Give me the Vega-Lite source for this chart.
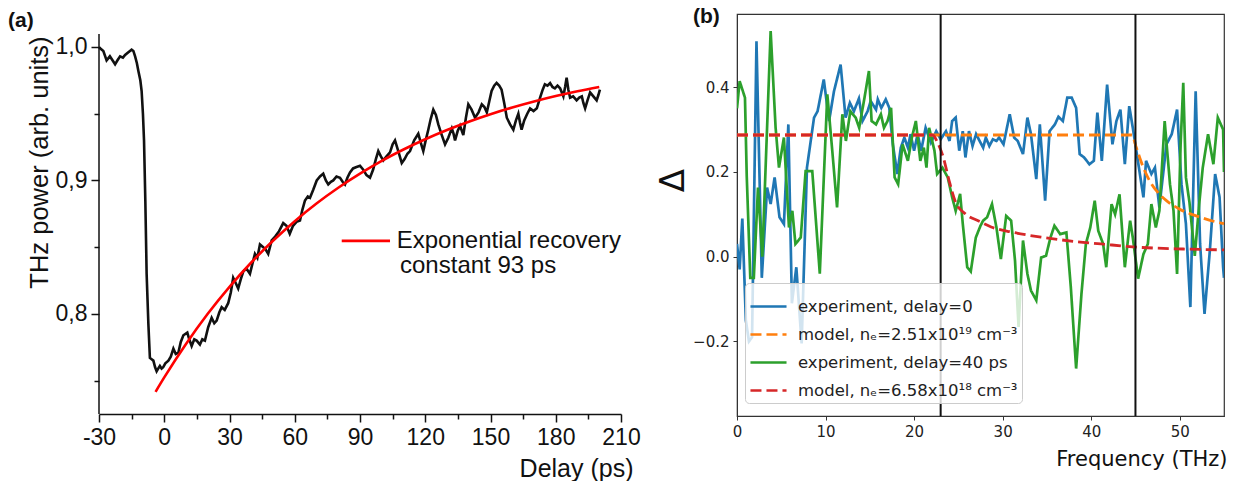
{
  "$schema": "https://vega.github.io/schema/vega-lite/v6.json",
  "padding": {"left": 8, "top": 5, "right": 0, "bottom": 0},
  "spacing": 14,
  "background": "white",
  "config": {
    "font": "Liberation Sans",
    "legend": {"labelFont": "DejaVu Sans", "labelFontSize": 16.5, "labelColor": "#222", "labelLimit": 400, "symbolType": "stroke", "symbolStrokeWidth": 2.6, "symbolSize": 1300, "fillColor": "rgba(255,255,255,0.8)", "strokeColor": "#cccccc", "cornerRadius": 4, "padding": 4, "rowPadding": -3, "labelOffset": 10}
  },
  "datasets": {
    "a_meas": [
      {"t":-30,"v":1.0},{"t":-29.5,"v":0.999},{"t":-28,"v":0.997},{"t":-26.5,"v":0.99},{"t":-25,"v":0.993},{"t":-23.8,"v":0.99},{"t":-22.6,"v":0.987},{"t":-21.5,"v":0.99},{"t":-20.3,"v":0.993},{"t":-19,"v":0.992},{"t":-18,"v":0.994},{"t":-16.5,"v":0.996},{"t":-15,"v":0.998},{"t":-14.2,"v":0.997},{"t":-13.4,"v":0.993},{"t":-12.6,"v":0.988},{"t":-11.9,"v":0.982},{"t":-11,"v":0.975},{"t":-10.4,"v":0.967},{"t":-9.8,"v":0.95},{"t":-9.3,"v":0.93},{"t":-8.7,"v":0.885},{"t":-8.1,"v":0.83},{"t":-7.3,"v":0.7925},{"t":-6.6,"v":0.767},{"t":-5.8,"v":0.766},{"t":-5,"v":0.765},{"t":-4.2,"v":0.76},{"t":-3.5,"v":0.757},{"t":-2.8,"v":0.759},{"t":-2,"v":0.761},{"t":-1.2,"v":0.759},{"t":-0.5,"v":0.76},{"t":0.5,"v":0.763},{"t":1.9,"v":0.765},{"t":3,"v":0.768},{"t":4.2,"v":0.774},{"t":5.3,"v":0.77},{"t":6.5,"v":0.771},{"t":7.6,"v":0.779},{"t":8.8,"v":0.784},{"t":10.6,"v":0.786},{"t":11.5,"v":0.781},{"t":12.6,"v":0.776},{"t":13.8,"v":0.781},{"t":14.9,"v":0.78},{"t":16.4,"v":0.777},{"t":17.5,"v":0.781},{"t":18.7,"v":0.78},{"t":20.2,"v":0.79},{"t":21.8,"v":0.797},{"t":23,"v":0.793},{"t":24.1,"v":0.795},{"t":25.3,"v":0.801},{"t":26.4,"v":0.805},{"t":27.8,"v":0.803},{"t":29.4,"v":0.808},{"t":30.6,"v":0.816},{"t":31.7,"v":0.827},{"t":32.9,"v":0.823},{"t":34,"v":0.819},{"t":35.2,"v":0.826},{"t":36.4,"v":0.832},{"t":37.8,"v":0.834},{"t":39.4,"v":0.83},{"t":40.6,"v":0.838},{"t":41.7,"v":0.845},{"t":42.8,"v":0.842},{"t":44,"v":0.852},{"t":45.5,"v":0.85},{"t":46.7,"v":0.848},{"t":47.8,"v":0.845},{"t":49.4,"v":0.855},{"t":51,"v":0.858},{"t":52.8,"v":0.862},{"t":54.7,"v":0.868},{"t":56.2,"v":0.866},{"t":57.7,"v":0.86},{"t":59.2,"v":0.866},{"t":60.8,"v":0.869},{"t":62.4,"v":0.87},{"t":63.5,"v":0.878},{"t":64.7,"v":0.885},{"t":66,"v":0.888},{"t":67,"v":0.887},{"t":68.5,"v":0.893},{"t":70.1,"v":0.9},{"t":71.6,"v":0.903},{"t":73.1,"v":0.905},{"t":74.3,"v":0.9},{"t":75.4,"v":0.897},{"t":76.6,"v":0.899},{"t":77.7,"v":0.9},{"t":79.2,"v":0.903},{"t":80.8,"v":0.902},{"t":82,"v":0.899},{"t":83.1,"v":0.897},{"t":84.2,"v":0.902},{"t":85.4,"v":0.906},{"t":86.8,"v":0.909},{"t":88.4,"v":0.91},{"t":90,"v":0.911},{"t":91.5,"v":0.908},{"t":93,"v":0.904},{"t":94.6,"v":0.902},{"t":96,"v":0.908},{"t":97.3,"v":0.916},{"t":98.4,"v":0.922},{"t":99.6,"v":0.918},{"t":100.7,"v":0.915},{"t":102.2,"v":0.918},{"t":103.8,"v":0.921},{"t":105,"v":0.927},{"t":106.1,"v":0.93},{"t":107.6,"v":0.922},{"t":109.2,"v":0.913},{"t":110.5,"v":0.916},{"t":111.8,"v":0.92},{"t":113,"v":0.922},{"t":114.9,"v":0.93},{"t":116.8,"v":0.935},{"t":118,"v":0.928},{"t":119.1,"v":0.922},{"t":120.2,"v":0.93},{"t":121.4,"v":0.938},{"t":122.5,"v":0.946},{"t":123.7,"v":0.953},{"t":124.9,"v":0.949},{"t":126,"v":0.942},{"t":127.6,"v":0.934},{"t":129.1,"v":0.927},{"t":130.6,"v":0.932},{"t":132.2,"v":0.939},{"t":133,"v":0.935},{"t":133.7,"v":0.93},{"t":134.9,"v":0.937},{"t":136,"v":0.941},{"t":137.5,"v":0.934},{"t":138.7,"v":0.947},{"t":139.8,"v":0.957},{"t":141.3,"v":0.953},{"t":142.9,"v":0.947},{"t":144.5,"v":0.951},{"t":146,"v":0.957},{"t":147.2,"v":0.955},{"t":148.3,"v":0.951},{"t":149.4,"v":0.959},{"t":150.5,"v":0.967},{"t":151.7,"v":0.971},{"t":152.8,"v":0.973},{"t":154,"v":0.971},{"t":155.1,"v":0.968},{"t":156.3,"v":0.958},{"t":157.5,"v":0.947},{"t":159,"v":0.942},{"t":160.5,"v":0.938},{"t":161.7,"v":0.945},{"t":162.8,"v":0.95},{"t":163.6,"v":0.943},{"t":164.3,"v":0.938},{"t":165.5,"v":0.945},{"t":166.9,"v":0.95},{"t":168.2,"v":0.954},{"t":169.8,"v":0.952},{"t":171.3,"v":0.954},{"t":172.8,"v":0.962},{"t":174,"v":0.968},{"t":175,"v":0.972},{"t":176.2,"v":0.971},{"t":177.4,"v":0.973},{"t":178.5,"v":0.97},{"t":179.6,"v":0.969},{"t":180.8,"v":0.971},{"t":182,"v":0.969},{"t":183.5,"v":0.963},{"t":184.3,"v":0.97},{"t":185,"v":0.977},{"t":185.8,"v":0.968},{"t":186.6,"v":0.962},{"t":188,"v":0.963},{"t":189.6,"v":0.96},{"t":190.8,"v":0.962},{"t":192,"v":0.963},{"t":192.7,"v":0.958},{"t":193.5,"v":0.954},{"t":194.6,"v":0.96},{"t":195.8,"v":0.966},{"t":197.3,"v":0.963},{"t":198.8,"v":0.96},{"t":199.6,"v":0.964},{"t":200.3,"v":0.968}
    ],
    "a_fit": [
      {"t":-4,"v":0.7416},{"t":0,"v":0.7524},{"t":10,"v":0.7775},{"t":20,"v":0.8001},{"t":30,"v":0.8203},{"t":40,"v":0.8385},{"t":50,"v":0.8548},{"t":60,"v":0.8695},{"t":70,"v":0.8827},{"t":80,"v":0.8945},{"t":90,"v":0.9051},{"t":100,"v":0.9147},{"t":110,"v":0.9232},{"t":120,"v":0.9309},{"t":130,"v":0.9378},{"t":140,"v":0.944},{"t":150,"v":0.9496},{"t":160,"v":0.9546},{"t":170,"v":0.9591},{"t":180,"v":0.9632},{"t":190,"v":0.9668},{"t":200,"v":0.97}
    ],
    "a_axisline": [{"x":-30,"y1":0.725,"y2":1.0097}],
    "a_leg_line": [{"x1":81.6,"x2":103.8,"y":0.8547}],
    "a_leg_text": [{"x":106.9,"y":0.8547,"label":"Exponential recovery"},{"x":108.4,"y":0.836,"label":"constant 93 ps"}],
    "b_vlines": [{"f":23},{"f":45}],
    "b_model": [
      {"s":"m0","f":0,"d":0.287},{"s":"m0","f":44.6,"d":0.287},{"s":"m0","f":45.1,"d":0.257},{"s":"m0","f":45.8,"d":0.215},{"s":"m0","f":46.6,"d":0.179},{"s":"m0","f":47.5,"d":0.152},{"s":"m0","f":48.5,"d":0.132},{"s":"m0","f":50,"d":0.112},{"s":"m0","f":52.3,"d":0.093},{"s":"m0","f":54.3,"d":0.081},{"s":"m0","f":55,"d":0.078},
      {"s":"m40","f":0,"d":0.287},{"s":"m40","f":22.1,"d":0.287},{"s":"m40","f":22.65,"d":0.269},{"s":"m40","f":23.3,"d":0.234},{"s":"m40","f":23.96,"d":0.179},{"s":"m40","f":24.7,"d":0.128},{"s":"m40","f":25.85,"d":0.1},{"s":"m40","f":27.3,"d":0.084},{"s":"m40","f":28.7,"d":0.07},{"s":"m40","f":31,"d":0.058},{"s":"m40","f":34.7,"d":0.045},{"s":"m40","f":38.5,"d":0.035},{"s":"m40","f":41.1,"d":0.03},{"s":"m40","f":44.7,"d":0.023},{"s":"m40","f":50.4,"d":0.018},{"s":"m40","f":55,"d":0.016}
    ],
    "b_exp": [
      {"s":"e0","f":0,"d":0.03},{"s":"e0","f":0.3,"d":-0.03},{"s":"e0","f":0.6,"d":0.09},{"s":"e0","f":1.0,"d":-0.15},{"s":"e0","f":1.35,"d":-0.2},{"s":"e0","f":1.7,"d":-0.19},{"s":"e0","f":2.2,"d":0.508},{"s":"e0","f":2.8,"d":-0.05},{"s":"e0","f":3.4,"d":0.163},{"s":"e0","f":3.8,"d":0.124},{"s":"e0","f":4.25,"d":0.187},{"s":"e0","f":4.8,"d":0.093},{"s":"e0","f":5.3,"d":0.077},{"s":"e0","f":5.8,"d":0.312},{"s":"e0","f":6.2,"d":-0.11},{"s":"e0","f":6.7,"d":-0.025},{"s":"e0","f":7.3,"d":-0.205},{"s":"e0","f":7.9,"d":0.21},{"s":"e0","f":8.7,"d":0.328},{"s":"e0","f":9.1,"d":0.343},{"s":"e0","f":9.8,"d":0.418},{"s":"e0","f":10.4,"d":0.32},{"s":"e0","f":10.95,"d":0.39},{"s":"e0","f":11.7,"d":0.453},{"s":"e0","f":12.26,"d":0.328},{"s":"e0","f":12.75,"d":0.363},{"s":"e0","f":13.2,"d":0.343},{"s":"e0","f":13.77,"d":0.373},{"s":"e0","f":14.18,"d":0.32},{"s":"e0","f":14.75,"d":0.343},{"s":"e0","f":15.1,"d":0.367},{"s":"e0","f":15.7,"d":0.347},{"s":"e0","f":15.9,"d":0.371},{"s":"e0","f":16.3,"d":0.351},{"s":"e0","f":16.8,"d":0.371},{"s":"e0","f":17.2,"d":0.351},{"s":"e0","f":17.6,"d":0.265},{"s":"e0","f":18.1,"d":0.195},{"s":"e0","f":18.5,"d":0.257},{"s":"e0","f":18.9,"d":0.281},{"s":"e0","f":19.3,"d":0.257},{"s":"e0","f":19.6,"d":0.289},{"s":"e0","f":20.0,"d":0.25},{"s":"e0","f":20.4,"d":0.289},{"s":"e0","f":20.8,"d":0.25},{"s":"e0","f":21.3,"d":0.304},{"s":"e0","f":21.9,"d":0.269},{"s":"e0","f":22.5,"d":0.296},{"s":"e0","f":23.0,"d":0.277},{"s":"e0","f":23.6,"d":0.296},{"s":"e0","f":24.0,"d":0.273},{"s":"e0","f":24.3,"d":0.32},{"s":"e0","f":24.7,"d":0.328},{"s":"e0","f":25.1,"d":0.25},{"s":"e0","f":25.5,"d":0.296},{"s":"e0","f":25.8,"d":0.234},{"s":"e0","f":26.2,"d":0.296},{"s":"e0","f":26.6,"d":0.261},{"s":"e0","f":27.0,"d":0.289},{"s":"e0","f":27.5,"d":0.269},{"s":"e0","f":27.8,"d":0.257},{"s":"e0","f":28.1,"d":0.281},{"s":"e0","f":28.5,"d":0.261},{"s":"e0","f":28.9,"d":0.277},{"s":"e0","f":29.3,"d":0.273},{"s":"e0","f":29.6,"d":0.281},{"s":"e0","f":30.1,"d":0.265},{"s":"e0","f":30.8,"d":0.336},{"s":"e0","f":31.3,"d":0.281},{"s":"e0","f":31.7,"d":0.273},{"s":"e0","f":32.3,"d":0.242},{"s":"e0","f":32.8,"d":0.328},{"s":"e0","f":33.2,"d":0.289},{"s":"e0","f":33.8,"d":0.183},{"s":"e0","f":34.2,"d":0.312},{"s":"e0","f":34.8,"d":0.132},{"s":"e0","f":35.3,"d":0.296},{"s":"e0","f":35.9,"d":0.312},{"s":"e0","f":36.3,"d":0.33},{"s":"e0","f":36.8,"d":0.32},{"s":"e0","f":37.3,"d":0.375},{"s":"e0","f":37.8,"d":0.375},{"s":"e0","f":38.3,"d":0.351},{"s":"e0","f":38.7,"d":0.242},{"s":"e0","f":39.2,"d":0.234},{"s":"e0","f":39.8,"d":0.218},{"s":"e0","f":40.3,"d":0.226},{"s":"e0","f":40.7,"d":0.34},{"s":"e0","f":41.2,"d":0.226},{"s":"e0","f":41.8,"d":0.406},{"s":"e0","f":42.4,"d":0.265},{"s":"e0","f":42.85,"d":0.32},{"s":"e0","f":43.3,"d":0.347},{"s":"e0","f":43.8,"d":0.218},{"s":"e0","f":44.3,"d":0.355},{"s":"e0","f":44.7,"d":0.304},{"s":"e0","f":45.1,"d":0.25},{"s":"e0","f":45.9,"d":0.14},{"s":"e0","f":46.2,"d":0.226},{"s":"e0","f":46.8,"d":0.195},{"s":"e0","f":47.2,"d":0.21},{"s":"e0","f":47.7,"d":0.116},{"s":"e0","f":48.5,"d":0.265},{"s":"e0","f":49.1,"d":0.289},{"s":"e0","f":49.7,"d":0.347},{"s":"e0","f":50.2,"d":0.171},{"s":"e0","f":50.7,"d":0.077},{"s":"e0","f":51.2,"d":-0.119},{"s":"e0","f":51.8,"d":0.39},{"s":"e0","f":52.3,"d":0.03},{"s":"e0","f":52.8,"d":-0.135},{"s":"e0","f":53.4,"d":0.014},{"s":"e0","f":54.0,"d":0.195},{"s":"e0","f":54.5,"d":0.14},{"s":"e0","f":54.9,"d":-0.025},{"s":"e0","f":55,"d":-0.05},
      {"s":"e40","f":0,"d":0.35},{"s":"e40","f":0.3,"d":0.414},{"s":"e40","f":0.9,"d":0.375},{"s":"e40","f":1.1,"d":0.19},{"s":"e40","f":1.5,"d":-0.05},{"s":"e40","f":1.9,"d":-0.05},{"s":"e40","f":2.37,"d":0.163},{"s":"e40","f":2.86,"d":0.0},{"s":"e40","f":3.8,"d":0.532},{"s":"e40","f":4.36,"d":0.304},{"s":"e40","f":4.74,"d":0.21},{"s":"e40","f":5.3,"d":0.281},{"s":"e40","f":5.87,"d":0.069},{"s":"e40","f":6.25,"d":0.108},{"s":"e40","f":6.6,"d":0.03},{"s":"e40","f":7.2,"d":0.045},{"s":"e40","f":7.75,"d":0.202},{"s":"e40","f":8.5,"d":0.202},{"s":"e40","f":9.35,"d":-0.04},{"s":"e40","f":10.2,"d":0.383},{"s":"e40","f":10.76,"d":0.25},{"s":"e40","f":11.3,"d":0.116},{"s":"e40","f":11.9,"d":0.336},{"s":"e40","f":12.3,"d":0.273},{"s":"e40","f":12.8,"d":0.343},{"s":"e40","f":13.4,"d":0.328},{"s":"e40","f":13.8,"d":0.304},{"s":"e40","f":14.4,"d":0.375},{"s":"e40","f":14.9,"d":0.438},{"s":"e40","f":15.2,"d":0.32},{"s":"e40","f":15.7,"d":0.312},{"s":"e40","f":16.25,"d":0.336},{"s":"e40","f":16.6,"d":0.304},{"s":"e40","f":17.0,"d":0.32},{"s":"e40","f":17.4,"d":0.351},{"s":"e40","f":17.8,"d":0.187},{"s":"e40","f":18.2,"d":0.171},{"s":"e40","f":18.7,"d":0.265},{"s":"e40","f":19.3,"d":0.226},{"s":"e40","f":19.75,"d":0.281},{"s":"e40","f":20.2,"d":0.32},{"s":"e40","f":20.7,"d":0.226},{"s":"e40","f":21.1,"d":0.257},{"s":"e40","f":21.4,"d":0.21},{"s":"e40","f":21.7,"d":0.304},{"s":"e40","f":22.3,"d":0.25},{"s":"e40","f":22.6,"d":0.195},{"s":"e40","f":23.2,"d":0.21},{"s":"e40","f":23.8,"d":0.187},{"s":"e40","f":24.3,"d":0.14},{"s":"e40","f":24.7,"d":0.108},{"s":"e40","f":25.2,"d":0.148},{"s":"e40","f":25.5,"d":0.077},{"s":"e40","f":26.0,"d":-0.025},{"s":"e40","f":26.4,"d":-0.035},{"s":"e40","f":26.97,"d":0.045},{"s":"e40","f":27.5,"d":0.073},{"s":"e40","f":27.8,"d":0.085},{"s":"e40","f":28.25,"d":0.093},{"s":"e40","f":28.8,"d":0.124},{"s":"e40","f":29.3,"d":0.069},{"s":"e40","f":29.8,"d":-0.006},{"s":"e40","f":30.4,"d":0.096},{"s":"e40","f":30.96,"d":0.085},{"s":"e40","f":31.4,"d":-0.01},{"s":"e40","f":31.8,"d":-0.166},{"s":"e40","f":32.3,"d":0.038},{"s":"e40","f":32.8,"d":-0.041},{"s":"e40","f":33.2,"d":-0.08},{"s":"e40","f":33.8,"d":-0.103},{"s":"e40","f":34.35,"d":-0.002},{"s":"e40","f":34.9,"d":0.002},{"s":"e40","f":35.4,"d":0.045},{"s":"e40","f":35.85,"d":0.073},{"s":"e40","f":36.5,"d":0.053},{"s":"e40","f":37.2,"d":0.057},{"s":"e40","f":37.7,"d":-0.072},{"s":"e40","f":38.3,"d":-0.264},{"s":"e40","f":38.9,"d":-0.088},{"s":"e40","f":39.4,"d":0.03},{"s":"e40","f":39.9,"d":0.069},{"s":"e40","f":40.4,"d":0.132},{"s":"e40","f":40.8,"d":0.061},{"s":"e40","f":41.35,"d":0.03},{"s":"e40","f":41.7,"d":-0.025},{"s":"e40","f":42.3,"d":0.124},{"s":"e40","f":42.7,"d":0.1},{"s":"e40","f":43.2,"d":0.147},{"s":"e40","f":43.8,"d":-0.025},{"s":"e40","f":44.4,"d":0.085},{"s":"e40","f":44.7,"d":0.045},{"s":"e40","f":45.3,"d":-0.052},{"s":"e40","f":45.9,"d":0.006},{"s":"e40","f":46.4,"d":0.03},{"s":"e40","f":46.8,"d":0.124},{"s":"e40","f":47.3,"d":0.069},{"s":"e40","f":47.7,"d":0.108},{"s":"e40","f":48.3,"d":0.32},{"s":"e40","f":48.9,"d":0.171},{"s":"e40","f":49.3,"d":0.108},{"s":"e40","f":49.7,"d":-0.041},{"s":"e40","f":50.1,"d":0.265},{"s":"e40","f":50.4,"d":0.41},{"s":"e40","f":50.7,"d":0.187},{"s":"e40","f":51.1,"d":0.128},{"s":"e40","f":51.7,"d":0.002},{"s":"e40","f":52.2,"d":0.124},{"s":"e40","f":52.6,"d":0.21},{"s":"e40","f":53.2,"d":0.289},{"s":"e40","f":53.8,"d":0.218},{"s":"e40","f":54.3,"d":0.328},{"s":"e40","f":54.9,"d":0.3},{"s":"e40","f":55,"d":0.2}
    ]
  },
  "hconcat": [
    {
      "width": 522,
      "height": 400,
      "title": {"text": "(a)", "anchor": "start", "frame": "group", "dx": -91, "offset": -17, "fontSize": 21, "font": "Liberation Sans", "fontWeight": "bold", "color": "#111"},
      "view": {"stroke": null},
      "resolve": {"axis": {"x": "independent", "y": "independent"}},
      "layer": [
        {
          "data": {"name": "a_meas"},
          "mark": {"type": "line", "color": "#111", "strokeWidth": 2.6},
          "encoding": {
            "x": {"field": "t", "type": "quantitative", "scale": {"domain": [-30, 210], "nice": false, "zero": false},
              "axis": {"orient": "bottom", "values": [-30, 0, 30, 60, 90, 120, 150, 180, 210], "labelFlush": false, "grid": false, "tickSize": 8, "tickWidth": 1.5, "tickColor": "#111", "domainColor": "#111", "domainWidth": 1.5, "labelFont": "Liberation Sans", "labelFontSize": 23, "labelColor": "#111", "labelPadding": 4, "labelExpr": "datum.value < 0 ? '-' + abs(datum.value) : datum.label", "title": "Delay (ps)", "titleFont": "Liberation Sans", "titleFontSize": 25, "titleFontWeight": "normal", "titleColor": "#111", "titleX": 534, "titleY": 54, "titleAlign": "right", "titleBaseline": "middle"}},
            "y": {"field": "v", "type": "quantitative", "scale": {"domain": [0.725, 1.0247], "nice": false, "zero": false},
              "axis": {"orient": "left", "values": [0.8, 0.9, 1.0], "domain": false, "labelFlush": false, "grid": false, "tickSize": 8, "tickWidth": 1.5, "tickColor": "#111", "labelFont": "Liberation Sans", "labelFontSize": 23, "labelColor": "#111", "labelPadding": 4, "labelExpr": "replace(format(datum.value, '.1f'), '.', ',')", "title": "THz power (arb. units)", "titleFont": "Liberation Sans", "titleFontSize": 25.5, "titleFontWeight": "normal", "titleColor": "#111", "titleX": -60, "titleY": 148, "titleAngle": 270, "titleAlign": "center", "titleBaseline": "middle"}}
          }
        },
        {
          "data": {"name": "a_fit"},
          "mark": {"type": "line", "color": "#ff0000", "strokeWidth": 2.6, "interpolate": "monotone"},
          "encoding": {
            "x": {"field": "t", "type": "quantitative", "scale": {"domain": [-30, 210], "nice": false, "zero": false},
              "axis": {"orient": "bottom", "values": [-15, 15, 45, 75, 105, 135, 165, 195], "grid": false, "domain": false, "labels": false, "title": null, "tickSize": 5, "tickWidth": 1.5, "tickColor": "#111"}},
            "y": {"field": "v", "type": "quantitative", "scale": {"domain": [0.725, 1.0247], "nice": false, "zero": false},
              "axis": {"orient": "left", "values": [0.75, 0.85, 0.95], "grid": false, "domain": false, "labels": false, "title": null, "tickSize": 5, "tickWidth": 1.5, "tickColor": "#111"}}
          }
        },
        {
          "data": {"name": "a_axisline"},
          "mark": {"type": "rule", "color": "#111", "strokeWidth": 1.5},
          "encoding": {
            "x": {"field": "x", "type": "quantitative", "axis": null},
            "y": {"field": "y1", "type": "quantitative", "axis": null},
            "y2": {"field": "y2"}
          }
        },
        {
          "data": {"name": "a_leg_line"},
          "mark": {"type": "rule", "color": "#ff0000", "strokeWidth": 2.6},
          "encoding": {
            "x": {"field": "x1", "type": "quantitative", "axis": null},
            "x2": {"field": "x2"},
            "y": {"field": "y", "type": "quantitative", "axis": null}
          }
        },
        {
          "data": {"name": "a_leg_text"},
          "mark": {"type": "text", "align": "left", "baseline": "middle", "font": "Liberation Sans", "fontSize": 24, "color": "#111"},
          "encoding": {
            "x": {"field": "x", "type": "quantitative", "axis": null},
            "y": {"field": "y", "type": "quantitative", "axis": null},
            "text": {"field": "label"}
          }
        }
      ]
    },
    {
      "width": 487,
      "height": 402,
      "title": {"text": "(b)", "anchor": "start", "frame": "group", "dx": -44, "offset": -14, "fontSize": 21, "font": "Liberation Sans", "fontWeight": "bold", "color": "#111"},
      "view": {"stroke": "#333", "strokeWidth": 1.2},
      "layer": [
        {
          "data": {"name": "b_exp"},
          "mark": {"type": "line", "strokeWidth": 2.7, "clip": true},
          "encoding": {
            "x": {"field": "f", "type": "quantitative", "scale": {"domain": [0, 55], "nice": false, "zero": false},
              "axis": {"values": [0, 10, 20, 30, 40, 50], "labelFlush": false, "grid": false, "tickSize": 4, "tickColor": "#333", "domainColor": "#333", "labelFont": "DejaVu Sans", "labelFontSize": 15, "labelColor": "#222", "labelPadding": 4, "title": "Frequency (THz)", "titleFont": "DejaVu Sans", "titleFontSize": 21, "titleFontWeight": "normal", "titleColor": "#111", "titleX": 490, "titleY": 43, "titleAlign": "right", "titleBaseline": "middle"}},
            "y": {"field": "d", "type": "quantitative", "scale": {"domain": [-0.376, 0.5725], "nice": false, "zero": false},
              "axis": {"values": [-0.2, 0, 0.2, 0.4], "format": ".1f", "labelFlush": false, "grid": false, "tickSize": 4, "tickColor": "#333", "domainColor": "#333", "labelFont": "DejaVu Sans", "labelFontSize": 15, "labelColor": "#222", "labelPadding": 4, "title": "Δ", "titleFont": "DejaVu Sans", "titleFontSize": 34, "titleFontWeight": "normal", "titleColor": "#111", "titleX": -64, "titleY": 166, "titleAngle": 270, "titleAlign": "center", "titleBaseline": "middle"}},
            "color": {"field": "s", "type": "nominal", "scale": {"domain": ["e0", "m0", "e40", "m40"], "range": ["#1f77b4", "#ff7f0e", "#2ca02c", "#d62728"]},
              "legend": {"title": null, "orient": "none", "legendX": 646, "legendY": 269, "labelFontSize": 16.5, "labelFont": "DejaVu Sans", "labelExpr": "datum.label == 'e0' ? 'experiment, delay=0' : datum.label == 'm0' ? 'model, nₑ=2.51x10¹⁹ cm⁻³' : datum.label == 'e40' ? 'experiment, delay=40 ps' : 'model, nₑ=6.58x10¹⁸ cm⁻³'"}},
            "strokeDash": {"field": "s", "type": "nominal", "scale": {"domain": ["e0", "m0", "e40", "m40"], "range": [[1, 0], [11, 5], [1, 0], [11, 5]]},
              "legend": {"title": null, "orient": "none", "legendX": 646, "legendY": 269, "labelFontSize": 16.5, "labelFont": "DejaVu Sans", "labelExpr": "datum.label == 'e0' ? 'experiment, delay=0' : datum.label == 'm0' ? 'model, nₑ=2.51x10¹⁹ cm⁻³' : datum.label == 'e40' ? 'experiment, delay=40 ps' : 'model, nₑ=6.58x10¹⁸ cm⁻³'"}}
          }
        },
        {
          "data": {"name": "b_model"},
          "mark": {"type": "line", "strokeWidth": 2.8, "interpolate": "monotone"},
          "encoding": {
            "x": {"field": "f", "type": "quantitative", "scale": {"domain": [0, 55], "nice": false, "zero": false}},
            "y": {"field": "d", "type": "quantitative", "scale": {"domain": [-0.376, 0.5725], "nice": false, "zero": false}},
            "color": {"field": "s", "type": "nominal", "scale": {"domain": ["e0", "m0", "e40", "m40"], "range": ["#1f77b4", "#ff7f0e", "#2ca02c", "#d62728"]},
              "legend": {"title": null, "orient": "none", "legendX": 646, "legendY": 269, "labelFontSize": 16.5, "labelFont": "DejaVu Sans", "labelExpr": "datum.label == 'e0' ? 'experiment, delay=0' : datum.label == 'm0' ? 'model, nₑ=2.51x10¹⁹ cm⁻³' : datum.label == 'e40' ? 'experiment, delay=40 ps' : 'model, nₑ=6.58x10¹⁸ cm⁻³'"}},
            "strokeDash": {"field": "s", "type": "nominal", "scale": {"domain": ["e0", "m0", "e40", "m40"], "range": [[1, 0], [11, 5], [1, 0], [11, 5]]},
              "legend": {"title": null, "orient": "none", "legendX": 646, "legendY": 269, "labelFontSize": 16.5, "labelFont": "DejaVu Sans", "labelExpr": "datum.label == 'e0' ? 'experiment, delay=0' : datum.label == 'm0' ? 'model, nₑ=2.51x10¹⁹ cm⁻³' : datum.label == 'e40' ? 'experiment, delay=40 ps' : 'model, nₑ=6.58x10¹⁸ cm⁻³'"}}
          }
        },
        {
          "data": {"name": "b_vlines"},
          "mark": {"type": "rule", "color": "#111", "strokeWidth": 2},
          "encoding": {
            "x": {"field": "f", "type": "quantitative", "scale": {"domain": [0, 55], "nice": false, "zero": false}}
          }
        }
      ]
    }
  ]
}
